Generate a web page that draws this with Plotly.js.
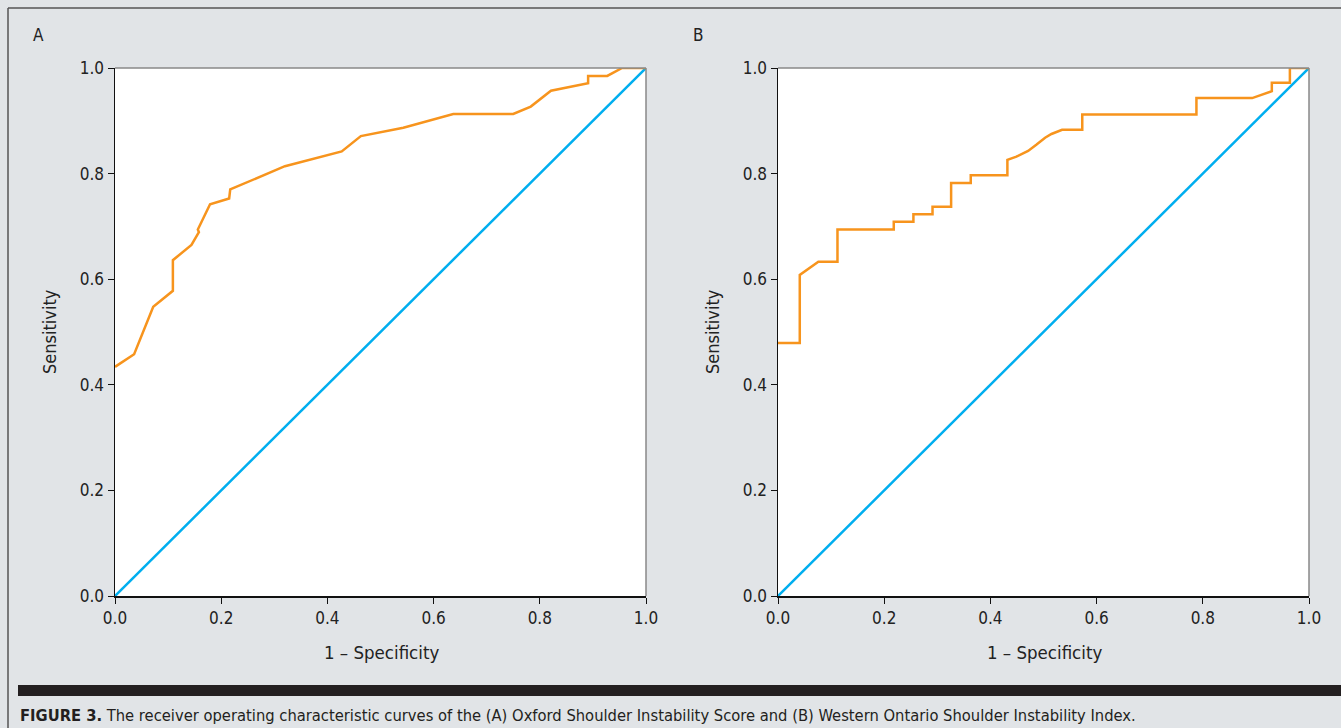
<!DOCTYPE html>
<html>
<head>
<meta charset="utf-8">
<script src="https://cdn.plot.ly/plotly-3.0.1.min.js"></script>
<style>
html,body{margin:0;padding:0;background:#e1e4e7;}
#chart{width:1341px;height:728px;}
</style>
</head>
<body>
<div id="chart"></div>
<script>
// Panel A: Oxford Shoulder Instability Score ROC
const oxfordFpr = [0.000, 0.036, 0.072, 0.109, 0.109, 0.144, 0.158, 0.156, 0.179, 0.215, 0.217, 0.320, 0.427, 0.463, 0.543, 0.637, 0.750, 0.783, 0.821, 0.891, 0.891, 0.927, 0.955, 1.000];
const oxfordTpr = [0.434, 0.458, 0.548, 0.578, 0.636, 0.665, 0.689, 0.694, 0.742, 0.753, 0.770, 0.814, 0.842, 0.871, 0.887, 0.913, 0.913, 0.927, 0.957, 0.971, 0.985, 0.985, 1.000, 1.000];
// Panel B: Western Ontario Shoulder Instability Index ROC
const wosiFpr = [0.000, 0.041, 0.041, 0.076, 0.112, 0.112, 0.218, 0.218, 0.255, 0.255, 0.291, 0.291, 0.326, 0.326, 0.363, 0.363, 0.432, 0.432, 0.449, 0.471, 0.487, 0.503, 0.515, 0.535, 0.573, 0.573, 0.788, 0.788, 0.893, 0.930, 0.930, 0.964, 0.964, 1.000];
const wosiTpr = [0.479, 0.479, 0.608, 0.633, 0.633, 0.694, 0.694, 0.709, 0.709, 0.723, 0.723, 0.737, 0.737, 0.782, 0.782, 0.797, 0.797, 0.826, 0.832, 0.843, 0.855, 0.868, 0.875, 0.883, 0.883, 0.912, 0.912, 0.943, 0.943, 0.956, 0.972, 0.972, 1.000, 1.000];
// Reference diagonal
const diagX = [0, 1];
const diagY = [0, 1];
const tickVals = [0, 0.2, 0.4, 0.6, 0.8, 1.0];
const tickText = ['0.0', '0.2', '0.4', '0.6', '0.8', '1.0'];
const panelLabels = ['A', 'B'];
const xTitle = '1 \u2013 Specificity';
const yTitle = 'Sensitivity';
const caption = '<b>FIGURE 3.</b> The receiver operating characteristic curves of the (A) Oxford Shoulder Instability Score and (B) Western Ontario Shoulder Instability Index.';

const W = 1341, H = 728;
const FONT = '"Liberation Sans Narrow", "DejaVu Sans Condensed", "Roboto", sans-serif';
const ORANGE = '#f7941d', BLUE = '#00aeef';

const px = v => v / W;
const py = v => 1 - v / H;

const traces = [
  {x: diagX, y: diagY, xaxis: 'x', yaxis: 'y', mode: 'lines', line: {color: BLUE, width: 2.5}, hoverinfo: 'skip'},
  {x: oxfordFpr, y: oxfordTpr, xaxis: 'x', yaxis: 'y', mode: 'lines', line: {color: ORANGE, width: 2.5}},
  {x: diagX, y: diagY, xaxis: 'x2', yaxis: 'y2', mode: 'lines', line: {color: BLUE, width: 2.5}, hoverinfo: 'skip'},
  {x: wosiFpr, y: wosiTpr, xaxis: 'x2', yaxis: 'y2', mode: 'lines', line: {color: ORANGE, width: 2.5}}
];

const axCommon = {
  range: [0, 1], tickvals: tickVals, ticktext: tickText,
  ticks: 'outside', ticklen: 6, tickwidth: 1, tickcolor: '#111',
  showline: true, linecolor: '#111', linewidth: 1.5,
  showgrid: false, zeroline: false, fixedrange: true,
  tickfont: {family: FONT, size: 17, color: '#222'}
};
const ydom = [py(596), py(68)];

const layout = {
  width: W, height: H,
  margin: {l: 0, r: 0, t: 0, b: 0},
  paper_bgcolor: '#e1e4e7', plot_bgcolor: '#ffffff',
  showlegend: false,
  xaxis: Object.assign({}, axCommon, {domain: [px(115), px(646)], anchor: 'y'}),
  yaxis: Object.assign({}, axCommon, {domain: ydom, anchor: 'x'}),
  xaxis2: Object.assign({}, axCommon, {domain: [px(778), px(1309)], anchor: 'y2'}),
  yaxis2: Object.assign({}, axCommon, {domain: ydom, anchor: 'x2'}),
  shapes: [
    // outer frame
    {type: 'line', xref: 'paper', yref: 'paper', x0: px(8), x1: 1, y0: py(8), y1: py(8), line: {color: '#555', width: 1.5}},
    {type: 'line', xref: 'paper', yref: 'paper', x0: px(8), x1: px(8), y0: py(8), y1: 0, line: {color: '#555', width: 1.5}},
    // grey top/right borders of plot areas
    {type: 'line', xref: 'x domain', yref: 'y domain', x0: 0, x1: 1, y0: 1, y1: 1, line: {color: '#888', width: 1.5}},
    {type: 'line', xref: 'x domain', yref: 'y domain', x0: 1, x1: 1, y0: 0, y1: 1, line: {color: '#888', width: 1.5}},
    {type: 'line', xref: 'x2 domain', yref: 'y2 domain', x0: 0, x1: 1, y0: 1, y1: 1, line: {color: '#888', width: 1.5}},
    {type: 'line', xref: 'x2 domain', yref: 'y2 domain', x0: 1, x1: 1, y0: 0, y1: 1, line: {color: '#888', width: 1.5}},
    // black caption bar
    {type: 'rect', xref: 'paper', yref: 'paper', x0: px(18), x1: 1, y0: py(696), y1: py(685), fillcolor: '#231f20', line: {width: 0}}
  ],
  annotations: [
    {text: panelLabels[0], xref: 'paper', yref: 'paper', x: px(31), y: py(35), xanchor: 'left', yanchor: 'middle', showarrow: false, font: {family: FONT, size: 17, color: '#222'}},
    {text: panelLabels[1], xref: 'paper', yref: 'paper', x: px(691), y: py(35), xanchor: 'left', yanchor: 'middle', showarrow: false, font: {family: FONT, size: 17, color: '#222'}},
    {text: xTitle, xref: 'paper', yref: 'paper', x: px(381), y: py(652), xanchor: 'center', yanchor: 'middle', showarrow: false, font: {family: FONT, size: 18.5, color: '#222'}},
    {text: xTitle, xref: 'paper', yref: 'paper', x: px(1044), y: py(652), xanchor: 'center', yanchor: 'middle', showarrow: false, font: {family: FONT, size: 18.5, color: '#222'}},
    {text: yTitle, xref: 'paper', yref: 'paper', x: px(50), y: py(332), xanchor: 'center', yanchor: 'middle', textangle: -90, showarrow: false, font: {family: FONT, size: 18, color: '#222'}},
    {text: yTitle, xref: 'paper', yref: 'paper', x: px(713), y: py(332), xanchor: 'center', yanchor: 'middle', textangle: -90, showarrow: false, font: {family: FONT, size: 18, color: '#222'}},
    {text: caption, xref: 'paper', yref: 'paper', x: px(18), y: py(715), xanchor: 'left', yanchor: 'middle', showarrow: false, font: {family: FONT, size: 16.4, color: '#231f20'}}
  ]
};

Plotly.newPlot('chart', traces, layout, {displayModeBar: false, staticPlot: true});
</script>
</body>
</html>
